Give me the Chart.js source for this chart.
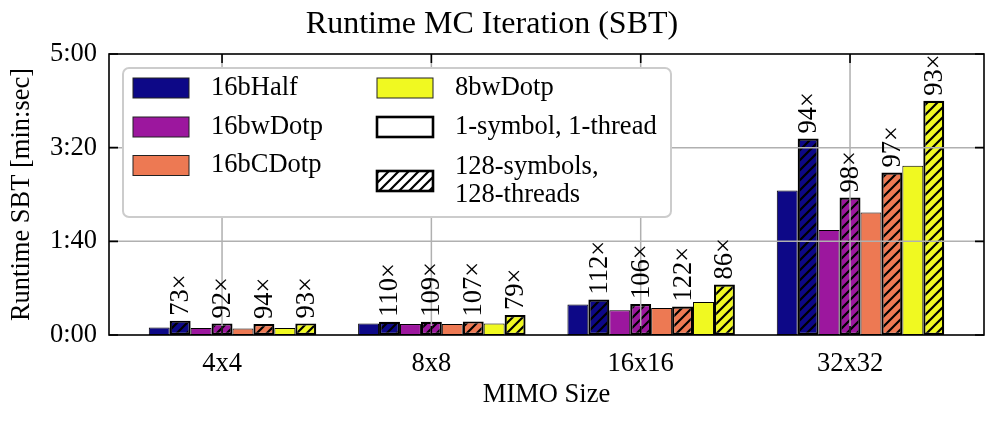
<!DOCTYPE html>
<html>
<head>
<meta charset="utf-8">
<script src="https://cdn.jsdelivr.net/npm/chart.js@4.4.1/dist/chart.umd.min.js"></script>
<style>
  html, body { margin: 0; padding: 0; background: #fff; }
  #wrap { width: 996px; height: 422px; }
</style>
</head>
<body>
<div id="wrap"><canvas id="chart" width="996" height="422"></canvas></div>
<script>
const categories = ['4x4', '8x8', '16x16', '32x32'];
const formats = ['16bHalf', '16bwDotp', '16bCDotp', '8bwDotp'];
const formatColors = ['#0d0887', '#9c179e', '#ed7953', '#f0f921'];
const variants = [['1-symbol, 1-thread'], ['128-symbols,', '128-threads']];

// runtime in seconds
const half1 = [8.1, 12.4, 32.5, 154.2];
const half128 = [15.3, 14.2, 37.8, 209.8];
const wdotp1 = [7.5, 11.7, 26.4, 112.2];
const wdotp128 = [12.4, 14.2, 33.1, 146.7];
const cdotp1 = [7.0, 11.7, 28.8, 130.7];
const cdotp128 = [11.7, 14.5, 30.3, 173.5];
const bw1 = [7.5, 12.4, 35.2, 180.6];
const bw128 = [12.4, 21.4, 53.8, 250.0];

// speedup printed over the 128-symbol bars
const halfSpeedup = [73, 110, 112, 94];
const wdotpSpeedup = [92, 109, 106, 98];
const cdotpSpeedup = [94, 107, 122, 97];
const bwSpeedup = [93, 79, 86, 93];

const yTicks = [0, 100, 200, 300];

const FONT = "'Liberation Serif', 'DejaVu Serif', serif";
const BASE = 26.5;

function minSec(v) {
  const m = Math.floor(v / 60);
  const s = Math.round(v % 60);
  return m + ':' + String(s).padStart(2, '0');
}

function hatch(color) {
  const c = document.createElement('canvas');
  c.width = 10; c.height = 10;
  const g = c.getContext('2d');
  g.fillStyle = color;
  g.fillRect(0, 0, 10, 10);
  g.strokeStyle = '#000';
  g.lineWidth = 2.2;
  g.beginPath();
  g.moveTo(-5, 5); g.lineTo(5, -5);
  g.moveTo(0, 10); g.lineTo(10, 0);
  g.moveTo(5, 15); g.lineTo(15, 5);
  g.stroke();
  return g.createPattern(c, 'repeat');
}

const single = [half1, wdotp1, cdotp1, bw1];
const multi = [half128, wdotp128, cdotp128, bw128];
const speedups = [halfSpeedup, wdotpSpeedup, cdotpSpeedup, bwSpeedup];

const datasets = [];
formats.forEach((name, f) => {
  datasets.push({
    label: name + ' 1-symbol',
    data: single[f].map((v, i) => ({ x: i, y: v })),
    backgroundColor: formatColors[f],
    borderColor: '#000',
    borderWidth: 1,
    borderSkipped: false
  });
  datasets.push({
    label: name + ' 128-symbols',
    data: multi[f].map((v, i) => ({ x: i, y: v })),
    backgroundColor: hatch(formatColors[f]),
    borderColor: '#000',
    borderWidth: 2.2,
    borderSkipped: false,
    speedup: speedups[f]
  });
});

// grid drawn over the bars, labels, frame with inward ticks, legend
const overlay = {
  id: 'overlay',
  afterDraw(chart) {
    const { ctx, chartArea: a, scales: { x, y } } = chart;
    ctx.save();

    ctx.strokeStyle = '#b0b0b0';
    ctx.lineWidth = 1.5;
    ctx.beginPath();
    y.ticks.forEach(t => {
      const py = y.getPixelForValue(t.value);
      if (py > a.top + 1 && py < a.bottom - 1) {
        ctx.moveTo(a.left, py); ctx.lineTo(a.right, py);
      }
    });
    x.ticks.forEach(t => {
      const px = x.getPixelForValue(t.value);
      ctx.moveTo(px, a.top); ctx.lineTo(px, a.bottom);
    });
    ctx.stroke();

    ctx.fillStyle = '#000';
    ctx.font = BASE + 'px ' + FONT;
    chart.data.datasets.forEach((ds, di) => {
      if (!ds.speedup) return;
      chart.getDatasetMeta(di).data.forEach((bar, i) => {
        ctx.save();
        ctx.translate(bar.x, bar.y - 5);
        ctx.rotate(-Math.PI / 2);
        ctx.textAlign = 'left';
        ctx.textBaseline = 'middle';
        ctx.fillText(ds.speedup[i] + '\u00d7', 0, 1);
        ctx.restore();
      });
    });

    ctx.strokeStyle = '#000';
    ctx.lineWidth = 1.6;
    ctx.strokeRect(a.left, a.top, a.right - a.left, a.bottom - a.top);
    ctx.beginPath();
    y.ticks.forEach(t => {
      const py = y.getPixelForValue(t.value);
      ctx.moveTo(a.left, py); ctx.lineTo(a.left + 9, py);
      ctx.moveTo(a.right, py); ctx.lineTo(a.right - 9, py);
    });
    x.ticks.forEach(t => {
      const px = x.getPixelForValue(t.value);
      ctx.moveTo(px, a.top); ctx.lineTo(px, a.top + 9);
      ctx.moveTo(px, a.bottom); ctx.lineTo(px, a.bottom - 9);
    });
    ctx.stroke();

    // legend
    const lx = 123, ly = 68, lw = 548, lh = 149;
    ctx.beginPath();
    ctx.roundRect(lx, ly, lw, lh, 6);
    ctx.fillStyle = '#fff';
    ctx.fill();
    ctx.strokeStyle = '#cccccc';
    ctx.lineWidth = 2;
    ctx.stroke();

    const sw = 56, sh = 20;
    const entries = [];
    formats.forEach((name, f) => entries.push({ lines: [name], fill: formatColors[f], edge: 1 }));
    entries.push({ lines: variants[0], fill: '#fff', edge: 2.6 });
    entries.push({ lines: variants[1], fill: hatch('#fff'), edge: 2.6 });
    const slots = [
      [133, 88], [133, 127], [133, 165.5],
      [377, 88], [377, 127], [377, 181]
    ];
    ctx.font = BASE + 'px ' + FONT;
    ctx.textAlign = 'left';
    ctx.textBaseline = 'middle';
    entries.forEach((e, k) => {
      const [sx, cy] = slots[k];
      ctx.fillStyle = e.fill;
      ctx.fillRect(sx, cy - sh / 2, sw, sh);
      ctx.strokeStyle = e.edge > 1 ? '#000' : '#222';
      ctx.lineWidth = e.edge;
      ctx.strokeRect(sx, cy - sh / 2, sw, sh);
      ctx.fillStyle = '#000';
      const top = cy - (e.lines.length - 1) * 14;
      e.lines.forEach((ln, j) => ctx.fillText(ln, sx + 78, top + j * 28));
    });

    ctx.restore();
  }
};

new Chart(document.getElementById('chart'), {
  type: 'bar',
  data: { datasets },
  options: {
    responsive: false,
    devicePixelRatio: 1,
    animation: false,
    layout: { padding: { left: 0, right: 12, top: 0, bottom: 0 } },
    datasets: { bar: { categoryPercentage: 0.8, barPercentage: 1.0 } },
    plugins: {
      legend: { display: false },
      tooltip: { enabled: false },
      title: {
        display: true,
        text: 'Runtime MC Iteration (SBT)',
        color: '#000',
        font: { family: FONT, size: 32, weight: 'normal' },
        padding: { top: 5, bottom: 10.6 }
      }
    },
    scales: {
      x: {
        type: 'linear',
        offset: false,
        min: -0.59,
        max: 3.59,
        grid: { display: false, drawTicks: false, offset: false },
        border: { display: false },
        afterBuildTicks: s => { s.ticks = categories.map((c, i) => ({ value: i - 0.05 })); },
        afterFit: s => { s.height = 87; },
        ticks: {
          callback: (v, i) => categories[i],
          color: '#000',
          font: { family: FONT, size: BASE },
          padding: 13,
          maxRotation: 0,
          autoSkip: false
        },
        title: {
          display: true,
          text: 'MIMO Size',
          color: '#000',
          font: { family: FONT, size: BASE },
          padding: { top: 0, bottom: 11 }
        }
      },
      y: {
        min: 0,
        max: 300,
        grid: { display: false, drawTicks: false },
        border: { display: false },
        afterBuildTicks: s => { s.ticks = yTicks.map(v => ({ value: v })); },
        afterFit: s => { s.width = 109; },
        ticks: {
          callback: v => minSec(v),
          color: '#000',
          font: { family: FONT, size: BASE },
          padding: 12
        },
        title: {
          display: true,
          text: 'Runtime SBT [min:sec]',
          color: '#000',
          font: { family: FONT, size: BASE },
          padding: { top: 6, bottom: 0 }
        }
      }
    }
  },
  plugins: [overlay]
});
</script>
</body>
</html>
